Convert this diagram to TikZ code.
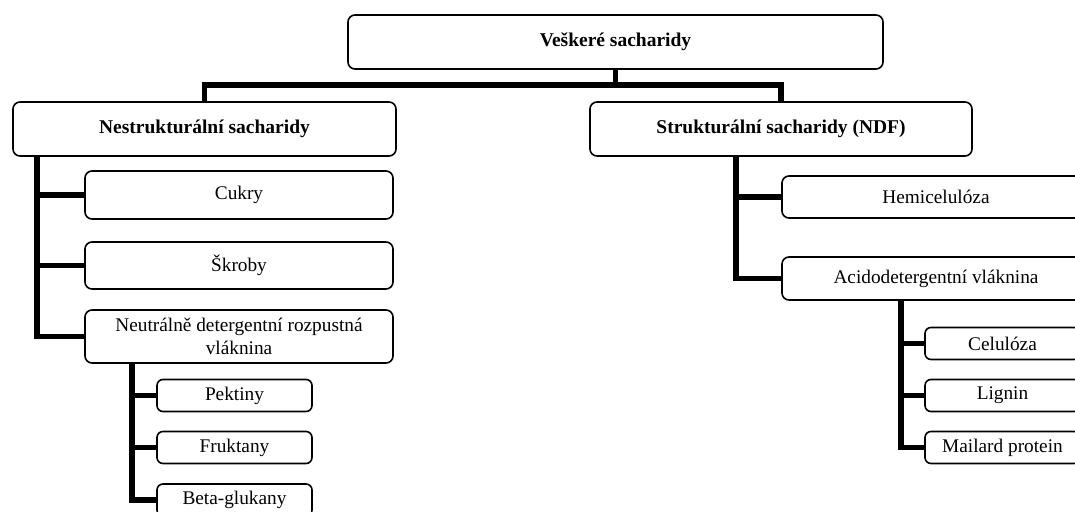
\documentclass[tikz,border=0pt]{standalone}
\usepackage{fontspec}
\setmainfont{Liberation Serif}

\begin{document}
\begin{tikzpicture}[
  x=1pt, y=-1pt,
  catbox/.style={draw, rectangle, rounded corners=7pt, line width=1.6pt, inner sep=0pt, minimum height=54pt, font=\fontsize{19.5}{23}\selectfont\bfseries},
  subbox/.style={draw, rectangle, rounded corners=7pt, line width=1.6pt, inner sep=0pt, minimum width=308pt, align=center, font=\fontsize{19.3}{23}\selectfont},
  leafbox/.style={subbox, rounded corners=6pt, minimum width=155pt, minimum height=32pt},
  link/.style={line width=5.5pt}
]
\useasboundingbox (0,0) rectangle (1075,511);
\clip (0,0) rectangle (1075,511);

% Top level
\node[catbox, minimum width=535pt] (all) at (615.5,42) {Veškeré sacharidy};
\node[catbox, minimum width=383pt] (nonstr) at (204.5,129) {Nestrukturální sacharidy};
\node[catbox, minimum width=382pt] (struct) at (781,129) {Strukturální sacharidy (NDF)};

% Non-structural branch
\node[subbox, minimum height=48pt] (sugars) at (239,195) {Cukry};
\node[subbox, minimum height=47pt] (starch) at (239,265.5) {Škroby};
\node[subbox, minimum height=53pt] (ndsf) at (239,336.5) {Neutrálně detergentní rozpustná\\vláknina};
\node[leafbox] (pectin) at (234.5,395.5) {Pektiny};
\node[leafbox] (fructan) at (234.5,447.5) {Fruktany};
\node[leafbox] (glucan) at (234.5,500) {Beta-glukany};

% Structural branch
\node[subbox, minimum height=42pt] (hemi) at (936,197) {Hemicelulóza};
\node[subbox, minimum height=43pt] (adf) at (936,278.5) {Acidodetergentní vláknina};
\node[leafbox] (cellulose) at (1002.5,343.5) {Celulóza};
\node[leafbox] (lignin) at (1002.5,395.5) {Lignin};
\node[leafbox] (maillard) at (1002.5,447.5) {Mailard protein};

% Bus below the top box
\coordinate (bus) at (0,85);
\draw[link] (all.south) -- (all.south |- bus);
\draw[link] (nonstr.north) |- (struct.north |- bus) -- (struct.north);

% Trunks and branches
\coordinate (nstrunk) at ([xshift=25pt]nonstr.south west);
\foreach \n in {sugars, starch, ndsf}
  \draw[link] (nstrunk) |- (\n.west);
\coordinate (ndtrunk) at ([xshift=48pt]ndsf.south west);
\foreach \n in {pectin, fructan, glucan}
  \draw[link] (ndtrunk) |- (\n.west);
\coordinate (sttrunk) at ([xshift=147pt]struct.south west);
\foreach \n in {hemi, adf}
  \draw[link] (sttrunk) |- (\n.west);
\coordinate (adtrunk) at ([xshift=120pt]adf.south west);
\foreach \n in {cellulose, lignin, maillard}
  \draw[link] (adtrunk) |- (\n.west);
\end{tikzpicture}
\end{document}
